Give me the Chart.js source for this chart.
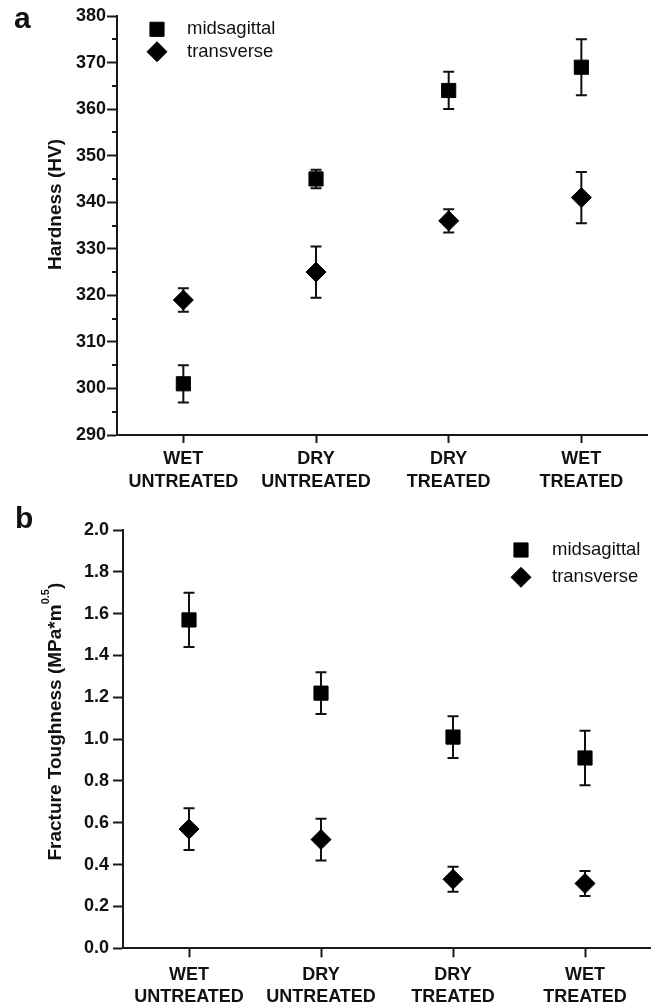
<!DOCTYPE html>
<html>
<head>
<meta charset="utf-8">
<script src="https://cdn.jsdelivr.net/npm/chart.js@4.4.1/dist/chart.umd.min.js"></script>
<style>
  html, body { margin: 0; padding: 0; background: #ffffff; }
  #wrap { position: relative; width: 651px; height: 1008px; overflow: hidden; }
  #ca { position: absolute; left: 0; top: 0; }
  #cb { position: absolute; left: 0; top: 500px; }
</style>
</head>
<body>
<div id="wrap">
  <canvas id="ca" width="651" height="500" style="width:651px;height:500px"></canvas>
  <canvas id="cb" width="651" height="508" style="width:651px;height:508px"></canvas>
</div>
<script>
// ---------------- DATA ----------------
const categories = [['WET', 'UNTREATED'], ['DRY', 'UNTREATED'], ['DRY', 'TREATED'], ['WET', 'TREATED']];
const seriesNames = ['midsagittal', 'transverse'];

// panel a: hardness (HV)
const hardnessMid = [301, 345, 364, 369];
const hardnessMidErr = [4, 2, 4, 6];
const hardnessTrans = [319, 325, 336, 341];
const hardnessTransErr = [2.5, 5.5, 2.5, 5.5];
const hardnessAxis = { min: 290, max: 380, step: 10, minorStep: 5 };

// panel b: fracture toughness (MPa*m^0.5)
const toughMid = [1.57, 1.22, 1.01, 0.91];
const toughMidErr = [0.13, 0.10, 0.10, 0.13];
const toughTrans = [0.57, 0.52, 0.33, 0.31];
const toughTransErr = [0.10, 0.10, 0.06, 0.06];
const toughAxis = { min: 0, max: 2, step: 0.2 };

const panelLabels = ['a', 'b'];
const hardnessTitle = 'Hardness (HV)';
const toughTitleMain = 'Fracture Toughness (MPa*m';
const toughTitleSup = '0.5';
const toughTitleEnd = ')';

// ---------------- STYLE ----------------
const FONT = "'Liberation Sans', Arial, Helvetica, sans-serif";
const INK = '#111111';
const AXIS = '#1a1a1a';

// ---------------- PLUGINS ----------------
const errorBarPlugin = {
  id: 'errorBars',
  beforeDatasetsDraw(chart) {
    const ctx = chart.ctx;
    const ys = chart.scales.y;
    chart.data.datasets.forEach((ds, i) => {
      const meta = chart.getDatasetMeta(i);
      meta.data.forEach((pt, j) => {
        const v = ds.data[j], e = ds.errorBars[j];
        const yt = ys.getPixelForValue(v + e);
        const yb = ys.getPixelForValue(v - e);
        const x = pt.x;
        const cap = 5.5;
        ctx.save();
        ctx.strokeStyle = INK;
        ctx.lineWidth = 2;
        ctx.beginPath();
        ctx.moveTo(x, yt); ctx.lineTo(x, yb);
        ctx.moveTo(x - cap, yt); ctx.lineTo(x + cap, yt);
        ctx.moveTo(x - cap, yb); ctx.lineTo(x + cap, yb);
        ctx.stroke();
        ctx.restore();
      });
    });
  }
};

const minorTickPlugin = {
  id: 'minorTicks',
  afterDraw(chart, args, opts) {
    if (!opts || !opts.step) return;
    const ys = chart.scales.y;
    const ctx = chart.ctx;
    const xAxis = chart.chartArea.left;
    ctx.save();
    ctx.strokeStyle = AXIS;
    ctx.lineWidth = 2;
    ctx.beginPath();
    for (let v = ys.min + opts.step; v < ys.max; v += opts.step) {
      if (Math.abs((v - ys.min) % opts.major) < 1e-6) continue;
      const y = Math.round(ys.getPixelForValue(v));
      ctx.moveTo(xAxis, y);
      ctx.lineTo(xAxis - opts.length, y);
    }
    ctx.stroke();
    ctx.restore();
  }
};

const legendPlugin = {
  id: 'pointLegend',
  afterDraw(chart, args, opts) {
    if (!opts || opts.x === undefined) return;
    const ctx = chart.ctx;
    chart.data.datasets.forEach((ds, i) => {
      const y = opts.y + i * opts.gap;
      ctx.save();
      ctx.fillStyle = ds.backgroundColor;
      ctx.strokeStyle = ds.borderColor;
      ctx.lineWidth = ds.borderWidth;
      Chart.helpers.drawPoint(ctx, {
        pointStyle: ds.pointStyle, radius: ds.pointRadius, rotation: 0, borderWidth: ds.borderWidth
      }, opts.x, y);
      ctx.fillStyle = INK;
      ctx.font = '400 ' + opts.fontSize + 'px ' + FONT;
      ctx.textAlign = 'left';
      ctx.textBaseline = 'middle';
      ctx.fillText(ds.label, opts.textX, y);
      ctx.restore();
    });
  }
};

const axisTitlePlugin = {
  id: 'yTitle',
  afterDraw(chart, args, opts) {
    if (!opts || !opts.parts) return;
    const ctx = chart.ctx;
    const ca = chart.chartArea;
    const cx = opts.x;
    const cy = (ca.top + ca.bottom) / 2 + opts.dy;
    ctx.save();
    ctx.translate(cx, cy);
    ctx.rotate(-Math.PI / 2);
    ctx.fillStyle = INK;
    ctx.textBaseline = 'middle';
    ctx.textAlign = 'left';
    let total = 0;
    const widths = opts.parts.map(p => {
      ctx.font = p.font;
      const w = ctx.measureText(p.text).width;
      total += w;
      return w;
    });
    let x = -total / 2;
    opts.parts.forEach((p, k) => {
      ctx.font = p.font;
      ctx.fillText(p.text, x, -(p.raise || 0));
      x += widths[k];
    });
    ctx.restore();
  }
};

const panelLabelPlugin = {
  id: 'panelLabel',
  afterDraw(chart, args, opts) {
    if (!opts || !opts.text) return;
    const ctx = chart.ctx;
    ctx.save();
    ctx.fillStyle = INK;
    ctx.font = 'bold ' + opts.size + 'px ' + FONT;
    ctx.textAlign = 'left';
    ctx.textBaseline = 'alphabetic';
    ctx.fillText(opts.text, opts.x, opts.y);
    ctx.restore();
  }
};

// ---------------- CHART BUILDER ----------------
function buildChart(canvasId, cfg) {
  const tickFont = { family: FONT, size: 18, weight: 'bold', lineHeight: 1.25 };
  return new Chart(document.getElementById(canvasId), {
    type: 'line',
    data: {
      labels: categories,
      datasets: [
        {
          label: seriesNames[0], data: cfg.mid, errorBars: cfg.midErr,
          showLine: false, pointStyle: 'rect', pointRadius: 10, pointHoverRadius: 10,
          backgroundColor: '#000000', borderColor: '#000000', borderWidth: 1
        },
        {
          label: seriesNames[1], data: cfg.trans, errorBars: cfg.transErr,
          showLine: false, pointStyle: 'rectRot', pointRadius: 10, pointHoverRadius: 10,
          backgroundColor: '#000000', borderColor: '#000000', borderWidth: 1
        }
      ]
    },
    options: {
      responsive: false,
      animation: false,
      devicePixelRatio: 1,
      events: [],
      layout: { padding: cfg.padding, autoPadding: false },
      scales: {
        x: {
          type: 'category',
          offset: true,
          grid: { display: true, drawOnChartArea: false, offset: false, tickLength: cfg.xTickLen, tickWidth: 2, tickColor: AXIS },
          border: { display: true, color: AXIS, width: 2 },
          ticks: { color: INK, font: tickFont, padding: cfg.xPad, maxRotation: 0, minRotation: 0, autoSkip: false },
          afterFit(s) { s.height = cfg.xHeight; s.paddingLeft = 0; s.paddingRight = 0; s.paddingTop = 0; s.paddingBottom = 0; }
        },
        y: {
          type: 'linear',
          min: cfg.axis.min, max: cfg.axis.max,
          grid: { display: true, drawOnChartArea: false, tickLength: 10, tickWidth: 2, tickColor: AXIS },
          border: { display: true, color: AXIS, width: 2 },
          ticks: {
            stepSize: cfg.axis.step, color: INK, font: tickFont, padding: cfg.yPad,
            callback: cfg.tickFmt
          },
          afterFit(s) { s.width = cfg.yWidth; s.paddingTop = 0; s.paddingBottom = 0; s.paddingLeft = 0; s.paddingRight = 0; }
        }
      },
      plugins: {
        legend: { display: false },
        tooltip: { enabled: false },
        minorTicks: cfg.minor,
        pointLegend: cfg.legend,
        yTitle: cfg.title,
        panelLabel: cfg.panel
      }
    },
    plugins: [errorBarPlugin, minorTickPlugin, legendPlugin, axisTitlePlugin, panelLabelPlugin]
  });
}

// panel a
buildChart('ca', {
  mid: hardnessMid, midErr: hardnessMidErr, trans: hardnessTrans, transErr: hardnessTransErr,
  axis: hardnessAxis,
  tickFmt: v => String(v),
  padding: { left: 0, right: 3.3, top: 16, bottom: 5 },
  yWidth: 117, xHeight: 60, xTickLen: 8, xPad: 5, yPad: 1,
  minor: { step: hardnessAxis.minorStep, major: hardnessAxis.step, length: 5 },
  legend: { x: 157, y: 29.3, gap: 22.4, textX: 187, fontSize: 18.5 },
  title: { x: 56, dy: -21, parts: [{ text: hardnessTitle, font: 'bold 19px ' + FONT }] },
  panel: { text: panelLabels[0], x: 14, y: 28, size: 30 }
});

// panel b
buildChart('cb', {
  mid: toughMid, midErr: toughMidErr, trans: toughTrans, transErr: toughTransErr,
  axis: toughAxis,
  tickFmt: v => Number(v).toFixed(1),
  padding: { left: 0, right: 0, top: 30, bottom: 4.7 },
  yWidth: 123, xHeight: 55, xTickLen: 9, xPad: 6, yPad: 4,
  minor: null,
  legend: { x: 521, y: 50, gap: 27.3, textX: 552, fontSize: 18.5 },
  title: { x: 56, dy: -17.5, parts: [
    { text: toughTitleMain, font: 'bold 19px ' + FONT },
    { text: toughTitleSup, font: 'bold 11px ' + FONT, raise: 10 },
    { text: toughTitleEnd, font: 'bold 19px ' + FONT }
  ] },
  panel: { text: panelLabels[1], x: 15, y: 28, size: 30 }
});
</script>
</body>
</html>
